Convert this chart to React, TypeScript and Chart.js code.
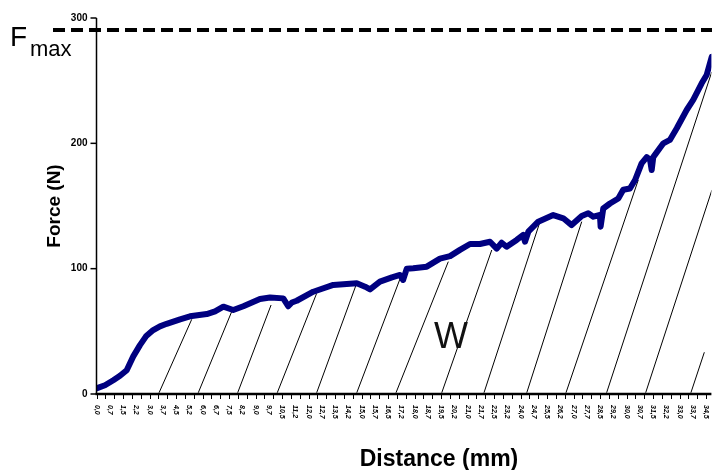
import React, { useEffect, useRef } from 'react';
import { Chart, registerables } from 'chart.js';

Chart.register(...registerables);

// Force–distance curve (mm, N)
const distance = [0, 0.48, 0.95, 1.33, 1.71, 2.08, 2.46, 2.8, 3.21, 3.59, 3.97, 4.73, 5.29, 6.24, 6.71, 7.18, 7.74, 8.31, 9.25, 9.82, 10.57, 10.85, 11.06, 11.33, 12.27, 13.4, 14.73, 15.2, 15.48, 16.04, 16.72, 17.18, 17.35, 17.56, 17.93, 18.69, 19.44, 20.01, 20.57, 21.14, 21.7, 22.27, 22.65, 22.93, 23.21, 23.78, 24.15, 24.25, 24.44, 25.0, 25.85, 26.42, 26.89, 27.46, 27.83, 28.12, 28.49, 28.53, 28.68, 29.06, 29.53, 29.81, 30.19, 30.48, 30.85, 31.14, 31.33, 31.42, 31.51, 32.08, 32.45, 32.84, 33.4, 33.77, 34.25, 34.53, 34.82];
const force = [4.5, 7, 11, 14.5, 19, 30, 39, 46, 51, 54, 56, 59.6, 62, 63.8, 66, 69.7, 67, 70, 75.8, 77, 76.3, 70, 73, 74.4, 81.6, 87, 88.3, 85.6, 83.5, 89.6, 93, 95, 91, 100, 100.3, 101.6, 108, 110, 115, 119.7, 119.7, 121.5, 116, 120.7, 117.5, 122.9, 126.9, 121.5, 129.5, 137.5, 142.8, 140.2, 134.8, 142, 144.2, 141.5, 142.8, 133.5, 148, 152, 156, 163, 164, 170.7, 184, 189, 186.7, 178.7, 189, 200, 202.7, 212, 226.6, 234.6, 247.9, 254.5, 269];

// Hatching lines representing work W (base on x-axis, top point)
const hatchBaseX = [3.54, 5.76, 7.99, 10.23, 12.46, 14.73, 16.95, 19.54, 21.93, 24.35, 26.57, 28.87, 31.08, 33.64];
const hatchTopX = [5.39, 7.65, 9.88, 12.46, 14.69, 17.18, 19.91, 22.37, 25.1, 27.46, 30.66, 34.82, 34.83, 34.4];
const hatchTopY = [59.6, 65.7, 71, 80.3, 87, 92, 105.6, 114.9, 137.5, 137.5, 170.7, 257, 162.8, 33.3];

const FMAX = 290.4;
const yTicks = [0, 100, 200, 300];
const xTickLabels = ['0,0', '0,7', '1,5', '2,2', '3,0', '3,7', '4,5', '5,2', '6,0', '6,7', '7,5', '8,2', '9,0', '9,7', '10,5', '11,2', '12,0', '12,7', '13,5', '14,2', '15,0', '15,7', '16,5', '17,2', '18,0', '18,7', '19,5', '20,2', '21,0', '21,7', '22,5', '23,2', '24,0', '24,7', '25,5', '26,2', '27,0', '27,7', '28,5', '29,2', '30,0', '30,7', '31,5', '32,2', '33,0', '33,7', '34,5'];
const xLabelStep = 0.75;
const xMinorStep = 0.5;
const X_MAX = 34.8;
const W_POS = { x: 20.06, y: 46 };

const FONT = 'Arial, "Liberation Sans", Helvetica, sans-serif';

const overlay = {
  id: 'overlay',
  afterDraw(chart: any) {
    const { ctx, chartArea: ca, scales } = chart;
    const xs = scales.x;
    const ys = scales.y;
    const x0 = xs.getPixelForValue(0);
    const y0 = ys.getPixelForValue(0);
    ctx.save();
    ctx.fillStyle = '#000';
    ctx.strokeStyle = '#000';

    // y axis
    ctx.lineWidth = 1.5;
    ctx.beginPath();
    ctx.moveTo(x0, ys.getPixelForValue(300));
    ctx.lineTo(x0, y0);
    ctx.stroke();
    // x axis
    ctx.lineWidth = 2.5;
    ctx.beginPath();
    ctx.moveTo(x0 - 1, y0);
    ctx.lineTo(ca.right, y0);
    ctx.stroke();

    // y ticks + labels
    ctx.lineWidth = 1.5;
    ctx.font = `bold 10px ${FONT}`;
    ctx.textAlign = 'right';
    ctx.textBaseline = 'middle';
    yTicks.forEach((v) => {
      const py = ys.getPixelForValue(v);
      ctx.beginPath();
      ctx.moveTo(x0 - 6, py);
      ctx.lineTo(x0, py);
      ctx.stroke();
      ctx.fillText(String(v), x0 - 9, py);
    });

    // x minor ticks
    ctx.lineWidth = 1;
    for (let v = 0; v <= X_MAX + 1e-6; v += xMinorStep) {
      const px = Math.round(xs.getPixelForValue(v)) + 0.5;
      ctx.beginPath();
      ctx.moveTo(px, y0);
      ctx.lineTo(px, y0 + 5);
      ctx.stroke();
    }

    // x labels rotated (reading top to bottom)
    ctx.font = `italic bold 7px ${FONT}`;
    ctx.textAlign = 'left';
    ctx.textBaseline = 'middle';
    xTickLabels.forEach((lab, i) => {
      const px = xs.getPixelForValue(i * xLabelStep);
      ctx.save();
      ctx.translate(px, y0 + 11);
      ctx.rotate(Math.PI / 2);
      ctx.fillText(lab, 0, 0);
      ctx.restore();
    });

    // Fmax dashed line
    const fy = ys.getPixelForValue(FMAX);
    ctx.lineWidth = 4;
    ctx.setLineDash([12, 6]);
    ctx.beginPath();
    ctx.moveTo(53, fy);
    ctx.lineTo(chart.width, fy);
    ctx.stroke();
    ctx.setLineDash([]);

    // Fmax label
    ctx.textAlign = 'left';
    ctx.textBaseline = 'alphabetic';
    ctx.font = `28px ${FONT}`;
    ctx.fillText('F', 10, 46);
    ctx.font = `22px ${FONT}`;
    ctx.fillText('max', 30, 56);

    // W label
    ctx.fillStyle = '#111';
    ctx.font = `36px ${FONT}`;
    ctx.textAlign = 'center';
    ctx.textBaseline = 'middle';
    ctx.fillText('W', xs.getPixelForValue(W_POS.x), ys.getPixelForValue(W_POS.y) + 2);

    // axis titles
    ctx.fillStyle = '#000';
    ctx.font = `bold 19px ${FONT}`;
    ctx.save();
    ctx.translate(55, 206);
    ctx.rotate(-Math.PI / 2);
    ctx.fillText('Force (N)', 0, 0);
    ctx.restore();
    ctx.font = `bold 23px ${FONT}`;
    ctx.fillText('Distance (mm)', 439, 460);

    ctx.restore();
  },
};

export default function App() {
  const ref = useRef<HTMLCanvasElement>(null);
  useEffect(() => {
    if (!ref.current) return;
    const hatchSets = hatchBaseX.map((bx, i) => ({
      label: 'hatch' + i,
      data: [
        { x: bx, y: 1 },
        { x: hatchTopX[i], y: hatchTopY[i] },
      ],
      borderColor: '#000',
      borderWidth: 1,
      pointRadius: 0,
      order: 2,
    }));
    const chart = new Chart(ref.current, {
      type: 'line',
      data: {
        datasets: [
          {
            label: 'Force',
            data: distance.map((d, i) => ({ x: d, y: force[i] })),
            borderColor: '#000080',
            borderWidth: 6,
            borderJoinStyle: 'round',
            borderCapStyle: 'round',
            pointRadius: 0,
            tension: 0,
            order: 0,
          },
          ...hatchSets,
        ],
      },
      options: {
        animation: false,
        responsive: false,
        devicePixelRatio: 1,
        layout: { padding: { left: 96.5, right: 0.6, top: 18, bottom: 76 } },
        plugins: { legend: { display: false }, tooltip: { enabled: false } },
        scales: {
          x: { type: 'linear', min: 0, max: X_MAX, display: false },
          y: { type: 'linear', min: 0, max: 300, display: false },
        },
      },
      plugins: [overlay],
    } as any);
    return () => chart.destroy();
  }, []);
  return (
    <div style={{ position: 'absolute', left: 0, top: 0, width: 712, height: 470, background: '#fff' }}>
      <canvas ref={ref} width={712} height={470} />
    </div>
  );
}
